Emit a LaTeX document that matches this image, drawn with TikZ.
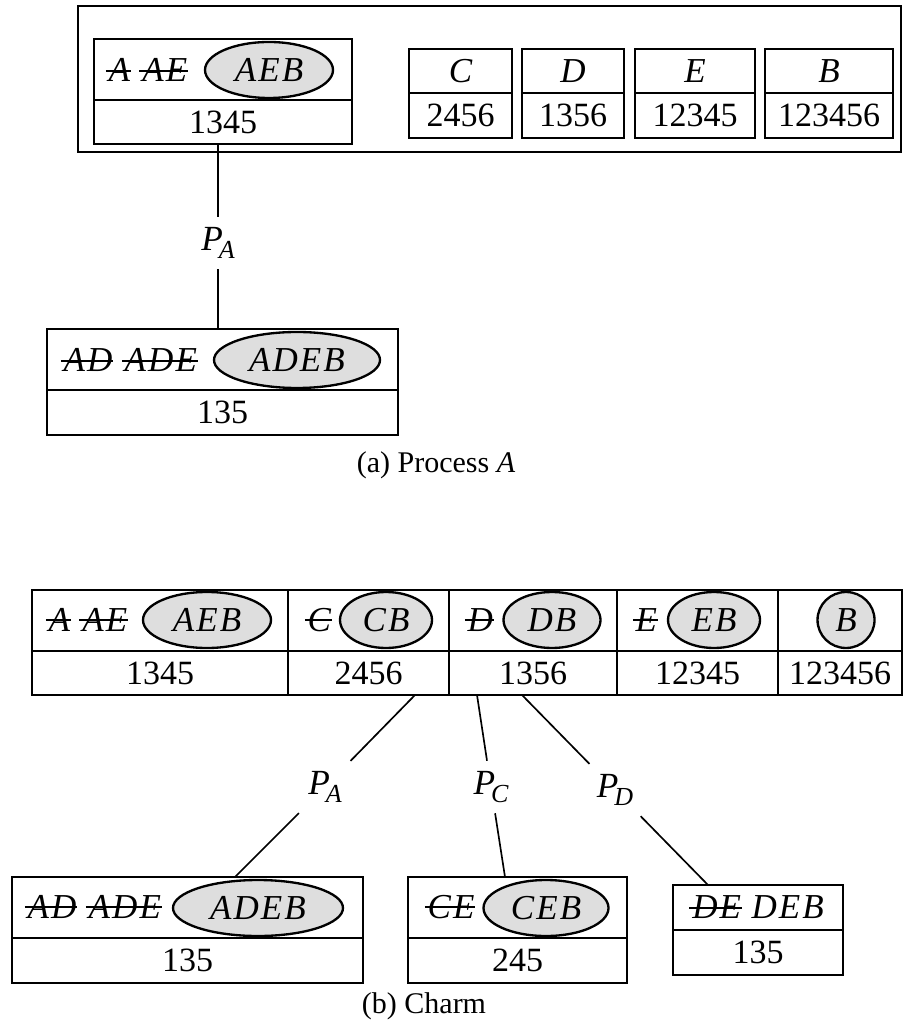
\documentclass[tikz,border=0pt]{standalone}
\usepackage{fontspec}
\setmainfont{Liberation Serif}
\newfontfamily\setfont{Liberation Serif}[LetterSpace=6]
\usepackage{tikz}
\usetikzlibrary{shapes.geometric}
\definecolor{HitGray}{HTML}{DEDEDE}
\newsavebox\strkbox
\newcommand\strk[1]{\sbox\strkbox{#1}\rlap{\kern-0.08em\rule[0.28em]{\dimexpr\wd\strkbox+0.1em\relax}{0.055em}}\usebox\strkbox}
\newcommand\plab[1]{\textit{P}\kern-1.2pt\raisebox{-0.22em}{\fontsize{7.8}{8}\selectfont\itshape #1}}
\tikzset{
  cellbox/.style={draw,line width=0.5pt,inner sep=0pt,font=\fontsize{10.2}{12}\selectfont},
  itemfont/.style={font=\setfont\itshape\fontsize{10.5}{12}\selectfont},
  hitset/.style={ellipse,draw,line width=0.7pt,fill=HitGray,inner sep=0pt,minimum height=16.8pt,itemfont},
  crossed/.style={anchor=base west,inner sep=0pt,itemfont},
  plabel/.style={fill=white,inner sep=3pt,font=\fontsize{10.6}{12}\selectfont},
  caption/.style={font=\fontsize{9}{11}\selectfont},
  tie/.style={line width=0.5pt}
}

\begin{document}
\begin{tikzpicture}[x=0.3pt,y=-0.3pt]
\path[use as bounding box] (0,0) rectangle (903,1025);
% (a) Process A
\draw[line width=0.8pt] (78,6) rectangle (901,152);
\node[cellbox,minimum width=77.4pt,minimum height=18.3pt] (aAh) at (223,69.5) {};
\node[cellbox,minimum width=77.4pt,minimum height=13.2pt] (aAn) at (223,122) {1345};
\node[crossed] (aAx) at (108,82) {\strk{A}\hspace{0.35em}\strk{AE}};
\node[hitset,minimum width=38.4pt] (aAe) at (269,70) {AEB};
\node[cellbox,itemfont,minimum width=30.9pt,minimum height=13.2pt] (aCh) at (460.5,71) {C};
\node[cellbox,minimum width=30.9pt,minimum height=13.5pt] (aCn) at (460.5,115.5) {2456};
\node[cellbox,itemfont,minimum width=30.75pt,minimum height=13.2pt] (aDh) at (573,71) {D};
\node[cellbox,minimum width=30.75pt,minimum height=13.5pt] (aDn) at (573,115.5) {1356};
\node[cellbox,itemfont,minimum width=36pt,minimum height=13.2pt] (aEh) at (695,71) {E};
\node[cellbox,minimum width=36pt,minimum height=13.5pt] (aEn) at (695,115.5) {12345};
\node[cellbox,itemfont,minimum width=38.4pt,minimum height=13.2pt] (aBh) at (829,71) {B};
\node[cellbox,minimum width=38.4pt,minimum height=13.5pt] (aBn) at (829,115.5) {123456};
\node[cellbox,minimum width=105.3pt,minimum height=18.3pt] (aLh) at (222.5,359.5) {};
\node[cellbox,minimum width=105.3pt,minimum height=13.5pt] (aLn) at (222.5,412.5) {135};
\node[crossed] (aLx) at (63,372) {\strk{AD}\hspace{0.35em}\strk{ADE}};
\node[hitset,minimum width=49.8pt] (aLe) at (297,360) {ADEB};
\node[plabel] (aPA) at (218,243) {\plab{A}};
\draw[tie] (aAn.south -| aPA) -- (aPA) -- (aLh.north -| aPA);
\node[caption] (capa) at (436,465) {(a) Process \textit{A}};
% (b) Charm
\node[cellbox,minimum width=76.8pt,minimum height=18.3pt] (bAh) at (160,620.5) {};
\node[cellbox,minimum width=76.8pt,minimum height=13.2pt] (bAn) at (160,673) {1345};
\node[cellbox,minimum width=48.3pt,minimum height=18.3pt] (bCh) at (368.5,620.5) {};
\node[cellbox,minimum width=48.3pt,minimum height=13.2pt] (bCn) at (368.5,673) {2456};
\node[cellbox,minimum width=50.4pt,minimum height=18.3pt] (bDh) at (533,620.5) {};
\node[cellbox,minimum width=50.4pt,minimum height=13.2pt] (bDn) at (533,673) {1356};
\node[cellbox,minimum width=48.3pt,minimum height=18.3pt] (bEh) at (697.5,620.5) {};
\node[cellbox,minimum width=48.3pt,minimum height=13.2pt] (bEn) at (697.5,673) {12345};
\node[cellbox,minimum width=37.2pt,minimum height=18.3pt] (bBh) at (840,620.5) {};
\node[cellbox,minimum width=37.2pt,minimum height=13.2pt] (bBn) at (840,673) {123456};
\node[crossed] (bAx) at (48,631) {\strk{A}\hspace{0.35em}\strk{AE}};
\node[hitset,minimum width=38.4pt] (bAe) at (207,620) {AEB};
\node[crossed] (bCx) at (307,631) {\strk{C}};
\node[hitset,minimum width=27.6pt] (bCe) at (386,620) {CB};
\node[crossed] (bDx) at (467,631) {\strk{D}};
\node[hitset,minimum width=29.1pt] (bDe) at (552,620) {DB};
\node[crossed] (bEx) at (635,631) {\strk{E}};
\node[hitset,minimum width=27.6pt] (bEe) at (714,620) {EB};
\node[hitset,minimum width=17.1pt] (bBe) at (846,620) {B};
\coordinate (tA) at (415,695);
\coordinate (tC) at (477,695);
\coordinate (tD) at (522,695);
\coordinate (uA) at (235,877);
\coordinate (uC) at (505,877);
\coordinate (uD) at (708,885);
\node[plabel] (bPA) at (325,787) {\plab{A}};
\node[plabel] (bPC) at (491,787) {\plab{C}};
\node[plabel] (bPD) at (615,790) {\plab{D}};
\draw[tie] (tA) -- (bPA) -- (uA);
\draw[tie] (tC) -- (bPC) -- (uC);
\draw[tie] (tD) -- (bPD) -- (uD);
\node[cellbox,minimum width=105.3pt,minimum height=18.3pt] (bLh) at (187.5,907.5) {};
\node[cellbox,minimum width=105.3pt,minimum height=13.5pt] (bLn) at (187.5,960.5) {135};
\node[crossed] (bLx) at (27,918) {\strk{AD}\hspace{0.35em}\strk{ADE}};
\node[hitset,minimum width=51pt] (bLe) at (258,908) {ADEB};
\node[cellbox,minimum width=65.7pt,minimum height=18.3pt] (bMh) at (517.5,907.5) {};
\node[cellbox,minimum width=65.7pt,minimum height=13.5pt] (bMn) at (517.5,960.5) {245};
\node[crossed] (bMx) at (427,918) {\strk{CE}};
\node[hitset,minimum width=37.5pt] (bMe) at (546,908) {CEB};
\node[cellbox,itemfont,minimum width=51pt,minimum height=13.5pt] (bRh) at (758,907.5) {\strk{DE}\hspace{0.3em}DEB};
\node[cellbox,minimum width=51pt,minimum height=13.5pt] (bRn) at (758,952.5) {135};
\node[caption] (capb) at (424,1006) {(b) Charm};
\end{tikzpicture}
\end{document}
